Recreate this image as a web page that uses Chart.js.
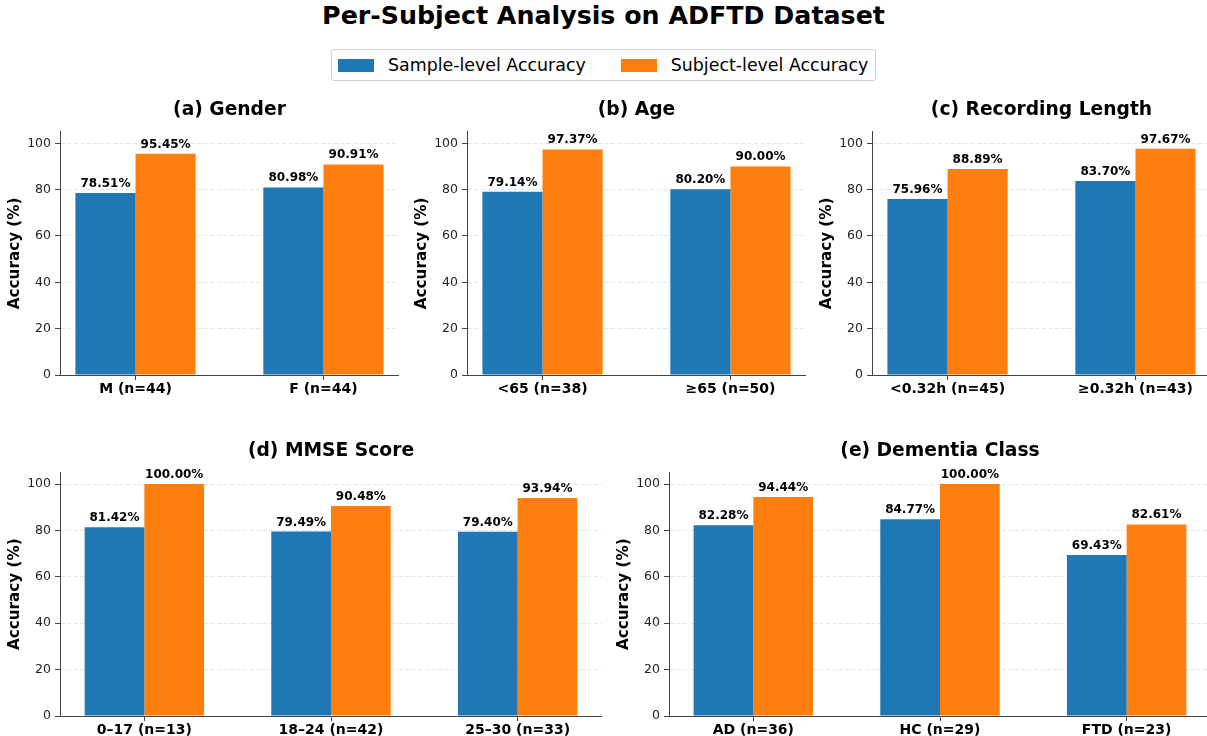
<!DOCTYPE html>
<html>
<head>
<meta charset="utf-8">
<script src="https://cdn.jsdelivr.net/npm/chart.js@4.4.1/dist/chart.umd.min.js"></script>
<style>
  body { margin: 0; width: 1207px; height: 736px; overflow: hidden; background: #fff; position: relative; font-family: "DejaVu Sans", sans-serif; }
  #title { position: absolute; left: 0; top: 1px; width: 1207px; height: 30px; line-height: 30px; text-align: center; font-size: 25.3px; font-weight: bold; color: #000; }
  #legend { position: absolute; left: 331px; top: 49px; width: 545px; height: 32px; box-sizing: border-box; border: 1px solid #d0d0d0; border-radius: 3px; display: flex; align-items: center; padding-left: 6px; font-size: 17.4px; color: #000; white-space: nowrap; }
  .item { display: flex; align-items: center; }
  .swatch { width: 36px; height: 13px; margin-right: 14px; }
  canvas { position: absolute; }
</style>
</head>
<body>
<div id="title">Per-Subject Analysis on ADFTD Dataset</div>
<div id="legend"></div>
<script>
// series
const seriesNames = ['Sample-level Accuracy', 'Subject-level Accuracy'];
const seriesColors = ['#1f77b4', '#ff7f0e'];

// (a) gender
const genderLabels = ['M (n=44)', 'F (n=44)'];
const genderSample = [78.51, 80.98];
const genderSubject = [95.45, 90.91];

// (b) age
const ageLabels = ['<65 (n=38)', '\u226565 (n=50)'];
const ageSample = [79.14, 80.20];
const ageSubject = [97.37, 90.00];

// (c) recording length
const lengthLabels = ['<0.32h (n=45)', '\u22650.32h (n=43)'];
const lengthSample = [75.96, 83.70];
const lengthSubject = [88.89, 97.67];

// (d) MMSE score
const mmseLabels = ['0\u201317 (n=13)', '18\u201324 (n=42)', '25\u201330 (n=33)'];
const mmseSample = [81.42, 79.49, 79.40];
const mmseSubject = [100.00, 90.48, 93.94];

// (e) dementia class
const classLabels = ['AD (n=36)', 'HC (n=29)', 'FTD (n=23)'];
const classSample = [82.28, 84.77, 69.43];
const classSubject = [94.44, 100.00, 82.61];

const yTicks = [0, 20, 40, 60, 80, 100];

// shared legend
const legend = document.getElementById('legend');
seriesNames.forEach((name, i) => {
  const item = document.createElement('div');
  item.className = 'item';
  if (i > 0) item.style.marginLeft = '35px';
  const sw = document.createElement('div');
  sw.className = 'swatch';
  sw.style.background = seriesColors[i];
  const txt = document.createElement('span');
  txt.textContent = name;
  item.appendChild(sw);
  item.appendChild(txt);
  legend.appendChild(item);
});

// value labels above the bars
const valueLabels = {
  id: 'valueLabels',
  afterDatasetsDraw(chart) {
    const ctx = chart.ctx;
    const yScale = chart.scales.y;
    ctx.save();
    ctx.font = 'bold 12px "DejaVu Sans"';
    ctx.fillStyle = '#000';
    ctx.textAlign = 'center';
    ctx.textBaseline = 'alphabetic';
    chart.data.datasets.forEach((ds, i) => {
      chart.getDatasetMeta(i).data.forEach((bar, j) => {
        const v = ds.data[j].y;
        ctx.fillText(v.toFixed(2) + '%', bar.x, yScale.getPixelForValue(v) - 6);
      });
    });
    ctx.restore();
  }
};

const panels = [
  { title: '(a) Gender', labels: genderLabels, sample: genderSample, subject: genderSubject, left: 0, top: 95, width: 399, height: 305, axisH: 25, titlePad: 10.3 },
  { title: '(b) Age', labels: ageLabels, sample: ageSample, subject: ageSubject, left: 407, top: 95, width: 399, height: 305, axisH: 25, titlePad: 10.3 },
  { title: '(c) Recording Length', labels: lengthLabels, sample: lengthSample, subject: lengthSubject, left: 812, top: 95, width: 399, height: 305, axisH: 25, titlePad: 10.3 },
  { title: '(d) MMSE Score', labels: mmseLabels, sample: mmseSample, subject: mmseSubject, left: 0, top: 436, width: 602, height: 300, axisH: 20, titlePad: 10 },
  { title: '(e) Dementia Class', labels: classLabels, sample: classSample, subject: classSubject, left: 609, top: 436, width: 602, height: 300, axisH: 20, titlePad: 10 }
];

function drawPanel(p) {
  const canvas = document.createElement('canvas');
  canvas.width = p.width;
  canvas.height = p.height;
  canvas.style.left = p.left + 'px';
  canvas.style.top = p.top + 'px';
  document.body.appendChild(canvas);

  // x range like matplotlib: bars of 0.32 each side plus 5% margin
  const n = p.labels.length;
  const margin = 0.05 * (n - 1 + 0.64);

  new Chart(canvas.getContext('2d'), {
    type: 'bar',
    data: {
      datasets: [
        {
          label: seriesNames[0],
          data: p.sample.map((v, i) => ({ x: i, y: v })),
          backgroundColor: seriesColors[0],
          borderWidth: 0,
          categoryPercentage: 0.64,
          barPercentage: 1.0,
        },
        {
          label: seriesNames[1],
          data: p.subject.map((v, i) => ({ x: i, y: v })),
          backgroundColor: seriesColors[1],
          borderWidth: 0,
          categoryPercentage: 0.64,
          barPercentage: 1.0,
        },
      ],
    },
    options: {
      responsive: false,
      animation: false,
      layout: { padding: 0 },
      plugins: {
        legend: { display: false },
        tooltip: { enabled: false },
        title: {
          display: true,
          text: p.title,
          fullSize: false,
          color: '#000',
          font: { family: 'DejaVu Sans', size: 18.7, weight: 'bold' },
          padding: { top: 4, bottom: p.titlePad },
        },
      },
      scales: {
        x: {
          type: 'linear',
          min: -0.32 - margin,
          max: n - 1 + 0.32 + margin,
          offset: false,
          afterBuildTicks: (s) => { s.ticks = p.labels.map((_, i) => ({ value: i })); },
          afterFit: (s) => { s.height = p.axisH; },
          ticks: {
            callback: (v) => p.labels[v],
            autoSkip: false,
            maxRotation: 0,
            padding: 1,
            color: '#000',
            font: { family: 'DejaVu Sans', size: 14, weight: 'bold' },
          },
          grid: { offset: false, drawOnChartArea: false, drawTicks: true, tickLength: 5, tickColor: '#444', color: '#444' },
          border: { display: true, color: '#444', width: 1 },
        },
        y: {
          min: 0,
          max: 105,
          afterBuildTicks: (s) => { s.ticks = yTicks.map((v) => ({ value: v })); },
          afterFit: (s) => { s.width = 60; },
          ticks: {
            padding: 4,
            color: '#222',
            font: { family: 'DejaVu Sans', size: 12.5 },
          },
          title: {
            display: true,
            text: 'Accuracy (%)',
            color: '#000',
            font: { family: 'DejaVu Sans', size: 15.2, weight: 'bold' },
            padding: { top: 6, bottom: 0 },
          },
          grid: {
            color: (c) => (c.tick && c.tick.value === 0 ? 'rgba(0,0,0,0)' : '#dddddd'),
            lineWidth: 0.8,
            drawTicks: true,
            tickLength: 5,
            tickColor: '#444',
            tickWidth: 1,
          },
          border: { display: true, color: '#444', width: 1, dash: [4, 2.5] },
        },
      },
    },
    plugins: [valueLabels],
  });
}

panels.forEach(drawPanel);
</script>
</body>
</html>
